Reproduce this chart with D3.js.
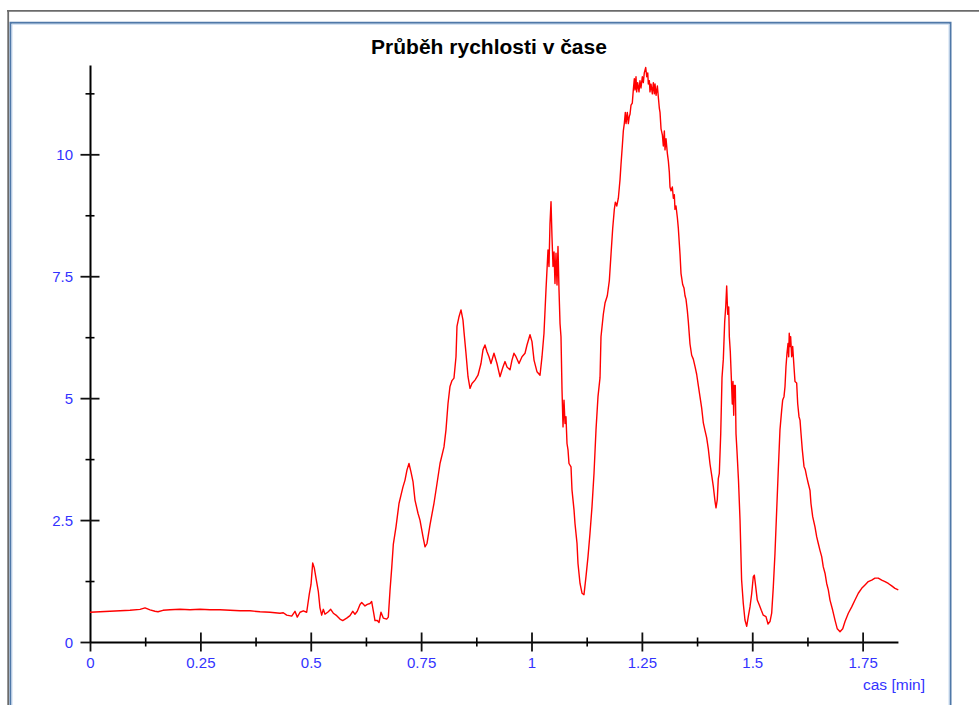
<!DOCTYPE html>
<html>
<head>
<meta charset="utf-8">
<script src="https://cdn.jsdelivr.net/npm/d3@7"></script>
<style>
  body { margin: 0; background: #fff; }
  svg { display: block; }
  text { font-family: "Liberation Sans", Arial, sans-serif; }
</style>
</head>
<body>
<div id="chart"></div>
<script>
// Texts
const chartTitle = "Průběh rychlosti v čase";
const xAxisTitle = "cas [min]";

// Ticks
const xMajorTicks = [0, 0.25, 0.5, 0.75, 1, 1.25, 1.5, 1.75];
const xMinorTicks = [0.125, 0.375, 0.625, 0.875, 1.125, 1.375, 1.625];
const yMajorTicks = [0, 2.5, 5, 7.5, 10];
const yMinorTicks = [1.25, 3.75, 6.25, 8.75, 11.25];
const xEnd = 1.83;   // where the axes stop
const yEnd = 11.83;

// Speed readings: [time in min, speed]
const readings = [
  [0.0000,0.61],[0.0227,0.62],[0.0453,0.63],[0.0680,0.64],[0.0906,0.65],[0.1133,0.67],[0.1246,0.70],[0.1359,0.66],
  [0.1472,0.63],[0.1540,0.62],[0.1653,0.65],[0.1812,0.66],[0.2039,0.67],[0.2265,0.66],[0.2492,0.67],[0.2718,0.66],
  [0.2945,0.66],[0.3171,0.65],[0.3398,0.64],[0.3624,0.64],[0.3851,0.62],[0.4077,0.61],[0.4304,0.59],
  [0.4378,0.60],[0.4455,0.55],[0.4569,0.53],[0.4643,0.63],[0.4695,0.51],[0.4757,0.61],[0.4831,0.64],[0.4908,0.61],
  [0.4967,0.98],[0.5006,1.18],[0.5044,1.62],[0.5080,1.52],[0.5119,1.31],[0.5171,1.04],[0.5209,0.70],[0.5248,0.55],
  [0.5284,0.67],[0.5323,0.57],[0.5397,0.62],[0.5452,0.67],[0.5511,0.59],[0.5588,0.54],[0.5662,0.47],[0.5724,0.44],
  [0.5814,0.49],[0.5889,0.54],[0.5950,0.63],[0.6002,0.57],[0.6054,0.63],[0.6116,0.77],[0.6154,0.81],[0.6229,0.74],
  [0.6281,0.77],[0.6342,0.79],[0.6380,0.83],[0.6417,0.64],[0.6455,0.44],[0.6507,0.44],[0.6546,0.40],[0.6591,0.61],
  [0.6643,0.49],[0.6720,0.47],[0.6757,0.51],[0.6795,1.05],[0.6834,1.52],[0.6870,2.00],
  [0.6931,2.36],[0.6999,2.84],[0.7044,3.01],[0.7089,3.18],[0.7135,3.32],[0.7180,3.53],[0.7225,3.66],[0.7270,3.49],
  [0.7316,3.29],[0.7361,2.91],[0.7429,2.64],[0.7474,2.50],[0.7542,2.16],[0.7588,1.95],[0.7633,2.02],[0.7701,2.40],
  [0.7792,2.85],[0.7860,3.25],[0.7928,3.66],[0.8018,4.00],[0.8063,4.35],[0.8109,4.89],[0.8154,5.24],[0.8199,5.36],
  [0.8244,5.41],[0.8290,5.85],[0.8312,6.47],[0.8358,6.67],[0.8403,6.81],[0.8448,6.60],[0.8471,6.36],[0.8516,5.92],
  [0.8562,5.44],[0.8607,5.20],
  [0.8652,5.30],[0.8720,5.37],[0.8788,5.47],[0.8856,5.71],[0.8901,5.99],[0.8946,6.09],[0.8992,5.95],[0.9037,5.85],
  [0.9082,5.71],[0.9150,5.92],[0.9218,5.71],[0.9286,5.44],[0.9354,5.64],[0.9400,5.75],[0.9445,5.64],[0.9513,5.58],
  [0.9558,5.78],[0.9603,5.92],[0.9649,5.85],[0.9717,5.71],[0.9785,5.85],[0.9853,5.92],[0.9898,6.09],[0.9966,6.30],
  [1.0011,6.16],[1.0057,5.78],[1.0125,5.54],[1.0193,5.47],[1.0238,5.85],[1.0283,6.33],[1.0328,7.22],[1.0374,8.04],
  [1.0396,7.70],[1.0419,8.58],[1.0442,9.03],[1.0464,8.31],[1.0487,7.70],[1.0510,8.00],[1.0532,7.35],[1.0555,7.97],
  [1.0578,7.32],[1.0600,8.11],[1.0623,7.22],[1.0646,6.53],[1.0668,6.26],[1.0691,5.17],[1.0714,4.41],[1.0736,4.96],
  [1.0759,4.48],[1.0781,4.62],[1.0804,4.07],[1.0827,3.94],[1.0849,3.66],[1.0895,3.59],[1.0917,3.12],[1.0963,2.71],
  [1.0985,2.43],[1.1031,2.02],[1.1053,1.61],[1.1099,1.20],[1.1144,1.00],[1.1189,0.97],[1.1234,1.34],[1.1280,1.75],
  [1.1325,2.23],[1.1370,2.77],[1.1416,3.46],[1.1461,4.35],[1.1506,5.03],
  [1.1552,5.42],[1.1574,6.26],[1.1627,6.72],[1.1665,6.95],[1.1717,7.10],[1.1763,7.41],[1.1801,7.95],[1.1839,8.48],
  [1.1876,8.87],[1.1899,9.02],[1.1931,8.94],[1.1967,9.10],[1.1990,9.33],[1.2005,9.48],[1.2027,9.79],[1.2057,10.17],
  [1.2080,10.48],[1.2102,10.63],[1.2125,10.86],[1.2141,10.63],[1.2170,10.86],[1.2193,10.63],[1.2216,10.78],[1.2231,10.82],
  [1.2254,11.01],[1.2283,11.05],[1.2306,11.32],[1.2329,11.55],[1.2344,11.32],[1.2367,11.59],[1.2382,11.28],[1.2405,11.47],
  [1.2435,11.28],[1.2457,11.51],[1.2480,11.36],[1.2510,11.59],[1.2532,11.47],[1.2555,11.67],[1.2587,11.78],[1.2610,11.59],
  [1.2633,11.67],[1.2646,11.44],[1.2669,11.51],[1.2684,11.28],[1.2707,11.44],[1.2737,11.24],[1.2760,11.47],[1.2783,11.24],
  [1.2798,11.44],[1.2821,11.21],[1.2851,11.40],[1.2873,11.17],[1.2896,10.94],[1.2911,10.86],[1.2934,10.52],[1.2964,10.40],
  [1.2986,10.17],[1.3009,10.48],[1.3024,10.09],[1.3047,10.32],[1.3077,10.02],[1.3100,9.86],[1.3122,9.63],[1.3137,9.33],
  [1.3160,9.25],[1.3190,9.33],[1.3213,9.10],[1.3235,9.17],[1.3250,8.87],[1.3273,8.94],[1.3303,8.71],[1.3326,8.48],
  [1.3364,7.95],[1.3386,7.56],[1.3424,7.33],[1.3454,7.26],[1.3477,7.10],[1.3499,7.03],[1.3529,6.80],[1.3552,6.57],
  [1.3590,6.11],[1.3628,5.88],[1.3665,5.80],[1.3703,5.65],[1.3741,5.49],[1.3778,5.26],[1.3816,5.03],[1.3854,4.80],
  [1.3891,4.50],[1.3929,4.34],[1.3967,4.19],[1.4005,3.96],[1.4043,3.65],[1.4081,3.42],[1.4118,3.19],[1.4156,2.89],
  [1.4179,2.75],[1.4208,2.92],[1.4231,3.35],[1.4254,3.46],[1.4286,4.27],[1.4315,5.42],[1.4345,5.80],[1.4376,6.57],
  [1.4399,6.87],[1.4421,7.30],[1.4444,6.72],[1.4467,6.87],[1.4481,6.26],[1.4503,5.95],[1.4526,5.42],[1.4548,4.88],
  [1.4564,5.34],[1.4580,4.65],[1.4593,5.26],[1.4616,5.26],[1.4632,4.27],[1.4655,3.90],[1.4689,3.30],[1.4723,2.50],
  [1.4759,1.27],[1.4797,0.79],[1.4835,0.45],[1.4874,0.32],[1.4910,0.52],[1.4949,0.72],[1.4987,0.99],[1.5024,1.34],
  [1.5047,1.37],[1.5079,1.13],[1.5114,0.86],[1.5160,0.76],[1.5205,0.65],[1.5250,0.55],[1.5311,0.52],[1.5357,0.37],
  [1.5402,0.42],[1.5440,0.59],[1.5477,1.13],[1.5515,1.82],[1.5554,2.71],[1.5590,3.53],[1.5628,4.35],[1.5667,4.76],
  [1.5689,4.96],[1.5719,5.03],[1.5742,5.24],[1.5764,5.65],[1.5787,5.92],[1.5810,6.12],[1.5825,5.85],[1.5838,6.33],
  [1.5855,6.06],[1.5870,6.26],[1.5893,5.85],[1.5916,6.06],[1.5945,5.65],[1.5968,5.34],[1.6006,5.31],[1.6029,4.89],
  [1.6059,4.62],[1.6082,4.55],[1.6104,4.28],[1.6134,3.94],[1.6172,3.60],[1.6202,3.53],[1.6233,3.39],[1.6269,3.25],
  [1.6308,3.11],[1.6330,2.84],[1.6369,2.57],[1.6421,2.36],[1.6459,2.16],[1.6496,2.02],[1.6534,1.88],[1.6573,1.75],
  [1.6609,1.54],[1.6648,1.41],[1.6686,1.20],[1.6723,1.07],[1.6761,0.86],[1.6822,0.65],[1.6874,0.45],[1.6926,0.27],
  [1.6988,0.21],[1.7049,0.27],[1.7101,0.42],[1.7176,0.59],[1.7253,0.72],[1.7327,0.86],[1.7402,1.00],[1.7479,1.10],
  [1.7554,1.17],[1.7628,1.24],[1.7706,1.27],[1.7780,1.31],[1.7855,1.31],[1.7932,1.27],[1.8007,1.24],[1.8082,1.20],
  [1.8159,1.15],[1.8233,1.10],[1.8308,1.07]
];

const w = 979, h = 705;
const blue = "#3333ff";

const svg = d3.select('#chart')
  .append('svg')
  .attr('width', w)
  .attr('height', h);

// Window frame (gray) and the blue panel border
svg.append('line')
  .attr('x1', 7).attr('x2', w).attr('y1', 10.8).attr('y2', 10.8)
  .attr('stroke', '#6b6b6b').attr('stroke-width', 1.8);
svg.append('line')
  .attr('x1', 8.2).attr('x2', 8.2).attr('y1', 10).attr('y2', h)
  .attr('stroke', '#6b6b6b').attr('stroke-width', 1.8);
svg.append('rect')
  .attr('x', 10.5).attr('y', 22.75).attr('width', 940).attr('height', 800)
  .attr('fill', 'none').attr('stroke', '#4f78a8').attr('stroke-width', 2);
svg.append('rect')
  .attr('x', 12).attr('y', 24.25).attr('width', 937).attr('height', 800)
  .attr('fill', 'none').attr('stroke', '#c7daf0').attr('stroke-width', 1);

// Scales
const x = d3.scaleLinear().domain([0, xEnd]).range([90, 90 + xEnd * 441.5]);
const y = d3.scaleLinear().domain([0, yEnd]).range([642, 642 - yEnd * 48.77]);

// Title
svg.append('text')
  .attr('x', 489).attr('y', 54)
  .attr('text-anchor', 'middle')
  .style('font-size', '21px').style('font-weight', 'bold')
  .text(chartTitle);

// X minor ticks
const xMinor = svg.append('g')
  .attr('transform', `translate(0, ${y(0)})`)
  .call(d3.axisBottom(x).tickValues(xMinorTicks).tickSizeOuter(0).tickFormat(''));
xMinor.select('.domain').remove();
xMinor.selectAll('.tick line').attr('y1', -4.5).attr('y2', 4.5)
  .attr('stroke', '#000').attr('stroke-width', 1.6);

// Y minor ticks
const yMinor = svg.append('g')
  .attr('transform', `translate(${x(0)}, 0)`)
  .call(d3.axisLeft(y).tickValues(yMinorTicks).tickSizeOuter(0).tickFormat(''));
yMinor.select('.domain').remove();
yMinor.selectAll('.tick line').attr('x1', 4.5).attr('x2', -4.5)
  .attr('stroke', '#000').attr('stroke-width', 1.6);

// X axis
const xAxis = svg.append('g')
  .attr('transform', `translate(0, ${y(0)})`)
  .call(d3.axisBottom(x).tickValues(xMajorTicks).tickSizeOuter(0).tickFormat(d => d));
xAxis.select('.domain').attr('stroke', '#000').attr('stroke-width', 2);
xAxis.selectAll('.tick line')
  .attr('y1', d => d === 0 ? 0 : -9.5).attr('y2', 9.5)
  .attr('stroke', '#111').attr('stroke-width', 1.8);
xAxis.selectAll('.tick text')
  .attr('y', 26).attr('dy', null)
  .attr('fill', blue)
  .style('font-size', '15px').style('font-family', '"Liberation Sans", Arial, sans-serif');

// Y axis
const yAxis = svg.append('g')
  .attr('transform', `translate(${x(0)}, 0)`)
  .call(d3.axisLeft(y).tickValues(yMajorTicks).tickSizeOuter(0).tickFormat(d => d));
yAxis.select('.domain').attr('stroke', '#000').attr('stroke-width', 2);
yAxis.selectAll('.tick line')
  .attr('x1', d => d === 0 ? 0 : 9.5).attr('x2', -9.5)
  .attr('stroke', '#111').attr('stroke-width', 1.8);
yAxis.selectAll('.tick text')
  .attr('x', -17).attr('dy', '0.36em')
  .attr('fill', blue)
  .style('font-size', '15px').style('font-family', '"Liberation Sans", Arial, sans-serif');

// X axis title
svg.append('text')
  .attr('x', 925).attr('y', 690)
  .attr('text-anchor', 'end')
  .attr('fill', blue)
  .style('font-size', '15.5px')
  .text(xAxisTitle);

// Speed line
const line = d3.line()
  .x(d => x(d[0]))
  .y(d => y(d[1]));

svg.append('path')
  .datum(readings)
  .attr('d', line)
  .attr('fill', 'none')
  .attr('stroke', '#ff0000')
  .attr('stroke-width', 1.4)
  .attr('stroke-linejoin', 'round');
</script>
</body>
</html>
